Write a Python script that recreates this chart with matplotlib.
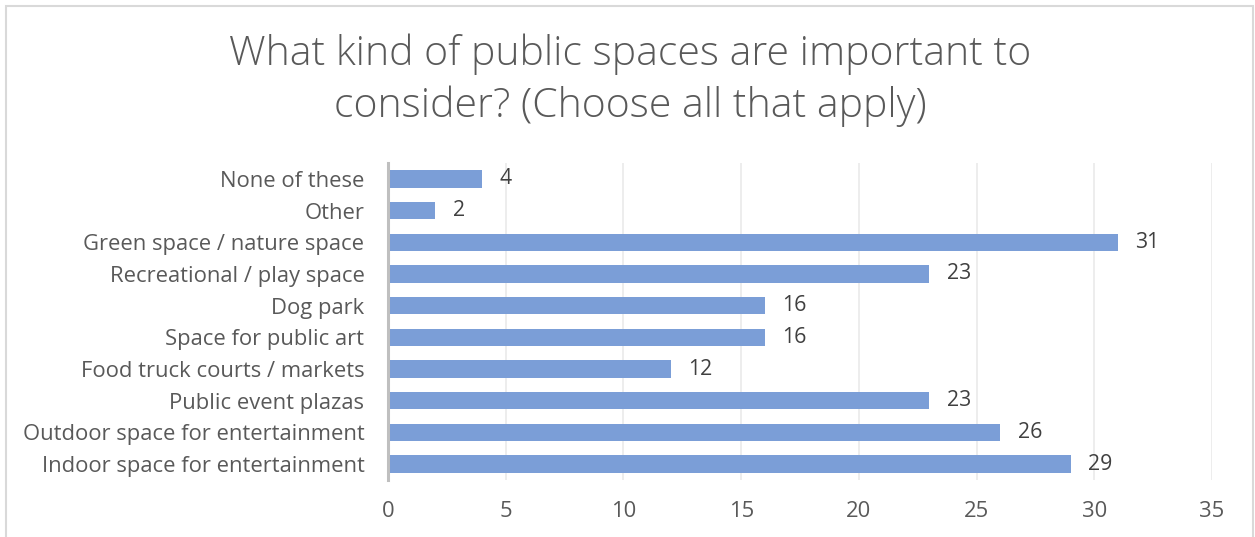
import matplotlib
matplotlib.use("Agg")
import matplotlib.pyplot as plt
from matplotlib.patches import Rectangle

categories = [
    "None of these",
    "Other",
    "Green space / nature space",
    "Recreational / play space",
    "Dog park",
    "Space for public art",
    "Food truck courts / markets",
    "Public event plazas",
    "Outdoor space for entertainment",
    "Indoor space for entertainment",
]
values = [4, 2, 31, 23, 16, 16, 12, 23, 26, 29]
xticks = [0, 5, 10, 15, 20, 25, 30, 35]
title = "What kind of public spaces are important to\nconsider? (Choose all that apply)"

plt.rcParams["font.family"] = ["Open Sans", "DejaVu Sans"]
W, H = 1255, 537
fig = plt.figure(figsize=(W / 100, H / 100), dpi=100)
fig.patch.set_facecolor("white")

# outer border
fig.patches.append(Rectangle((5.5 / W, -0.05), (1253 - 5.5) / W, (H - 5.5) / H + 0.05,
                             transform=fig.transFigure, fill=False,
                             edgecolor="#D9D9D9", linewidth=1.5))

ax = fig.add_axes([388 / W, 1 - 480 / H, (1212 - 388) / W, (480 - 163) / H])
n = len(categories)
ypos = list(range(n))
ax.barh(ypos, values, height=0.55, color="#7B9ED7", zorder=3)
ax.set_ylim(n - 0.5, -0.5)
ax.set_xlim(0, 35)
ax.set_xticks(xticks)
ax.set_yticks(ypos)
ax.set_yticklabels(categories)
ax.tick_params(axis="both", length=0, colors="#595959", labelsize=15.8)
ax.tick_params(axis="x", pad=15)
ax.tick_params(axis="y", pad=17)
ax.grid(axis="x", color="#EAEAEA", linewidth=1.2, zorder=0)
for s in ["top", "right", "bottom"]:
    ax.spines[s].set_visible(False)
ax.spines["left"].set_color("#BFBFBF")
ax.spines["left"].set_linewidth(2.2)
ax.spines["left"].set_zorder(4)

for y, v in zip(ypos, values):
    ax.text(v + 0.75, y, str(v), va="center", ha="left", fontsize=15.3, color="#404040")

fig.text(630 / W, 1 - 80 / H, title, ha="center", va="center", fontsize=29.5,
         color="#595959", fontweight="light", linespacing=1.33)

fig.savefig("out.png", dpi=100)
